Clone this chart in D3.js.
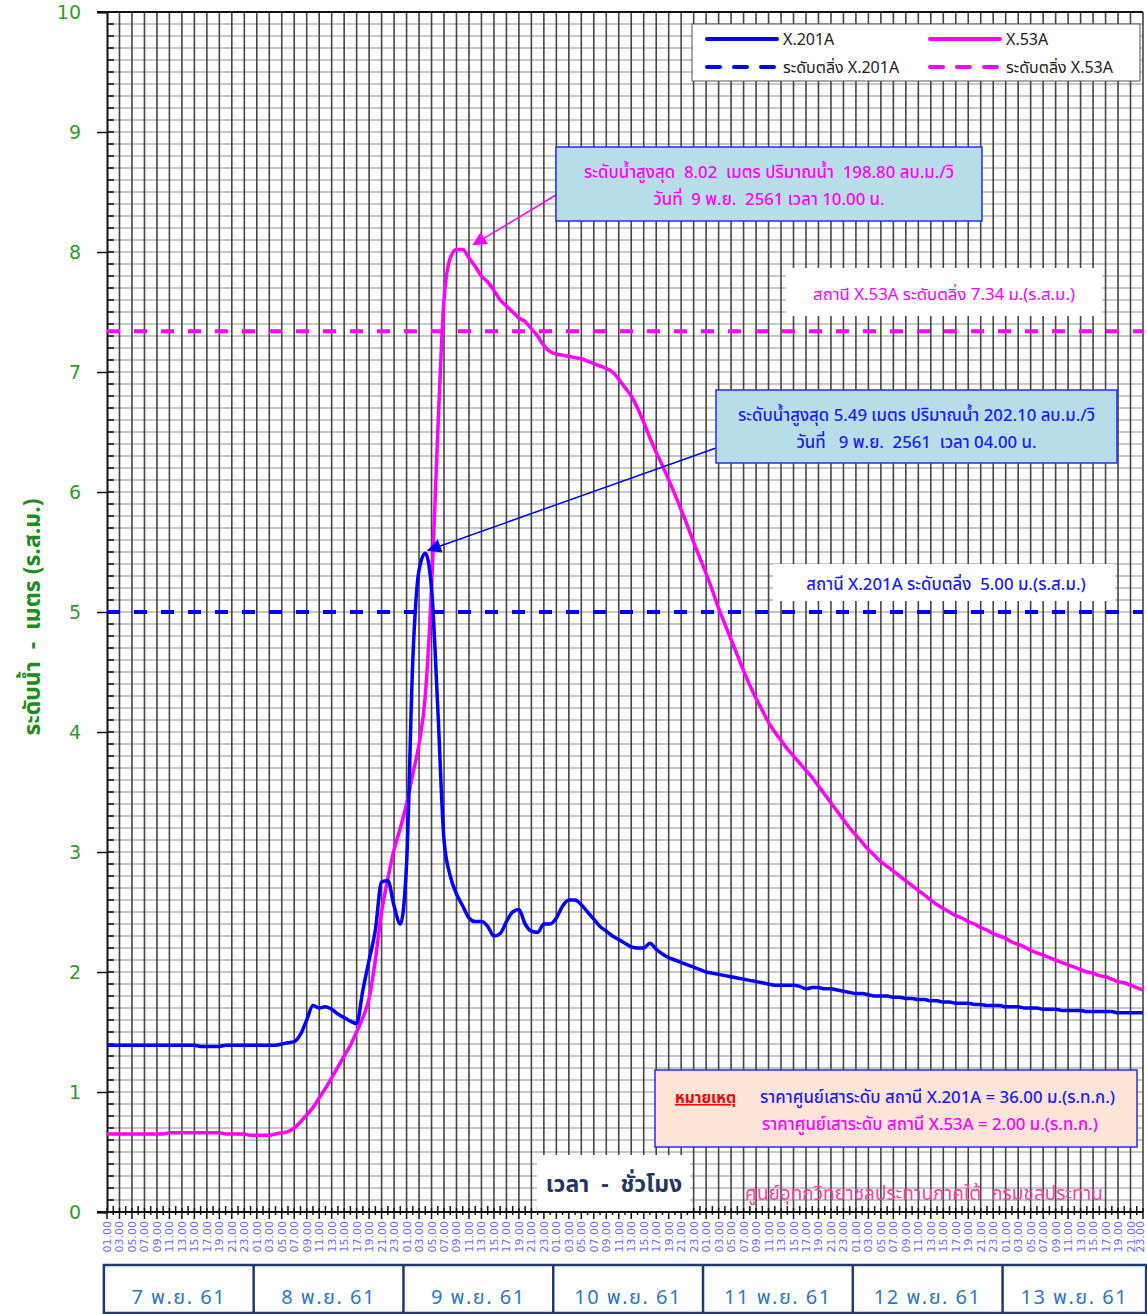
<!DOCTYPE html>
<html>
<head>
<meta charset="utf-8">
<script src="https://cdn.jsdelivr.net/npm/d3@7"></script>
<style>
  body { margin: 0; background: #fff; }
  svg text { font-family: Tahoma, "Noto Sans Thai", "Noto Sans", "DejaVu Sans", sans-serif; white-space: pre; }
</style>
</head>
<body>
<div id="chart"></div>
<script>
//data : hourly, index 0 = 7 Nov 01.00 ... index 166 = 13 Nov 23.00
var days = ["7 พ.ย. 61", "8 พ.ย. 61", "9 พ.ย. 61", "10 พ.ย. 61", "11 พ.ย. 61", "12 พ.ย. 61", "13 พ.ย. 61"];
var hourLabels = ["01.00","03.00","05.00","07.00","09.00","11.00","13.00","15.00","17.00","19.00","21.00","23.00"];
var yTicks = [0, 1, 2, 3, 4, 5, 6, 7, 8, 9, 10];

var x201A = [
  1.39,1.39,1.39,1.39,1.39,1.39,1.39,1.39,1.39,1.39,1.39,1.39,1.39,1.39,1.39,1.38,1.38,1.38,1.38,1.39,1.39,1.39,1.39,
  1.39,1.39,1.39,1.39,1.39,1.40,1.41,1.42,1.48,1.60,1.72,1.70,1.71,1.69,1.65,1.62,1.59,1.57,1.85,2.10,2.35,2.75,2.76,2.55,
  2.40,2.90,4.60,5.35,5.49,5.20,4.20,3.10,2.80,2.65,2.55,2.45,2.42,2.42,2.38,2.30,2.32,2.42,2.50,2.52,2.40,2.34,2.33,2.40,
  2.40,2.45,2.55,2.60,2.60,2.56,2.50,2.44,2.38,2.34,2.30,2.27,2.24,2.21,2.20,2.20,2.24,2.19,2.15,2.12,2.10,2.08,2.06,2.04,
  2.02,2.00,1.99,1.98,1.97,1.96,1.95,1.94,1.93,1.92,1.91,1.90,1.89,1.89,1.89,1.89,1.88,1.86,1.87,1.87,1.86,1.86,1.85,1.84,
  1.83,1.82,1.82,1.81,1.80,1.80,1.80,1.79,1.79,1.78,1.78,1.77,1.77,1.76,1.76,1.75,1.75,1.74,1.74,1.74,1.73,1.73,1.72,1.72,
  1.72,1.71,1.71,1.71,1.70,1.70,1.70,1.69,1.69,1.69,1.68,1.68,1.68,1.68,1.67,1.67,1.67,1.67,1.67,1.66,1.66,1.66,1.66,1.66
];
var x53A = [
  0.65,0.65,0.65,0.65,0.65,0.65,0.65,0.65,0.65,0.65,0.66,0.66,0.66,0.66,0.66,0.66,0.66,0.66,0.66,0.65,0.65,0.65,0.65,
  0.64,0.64,0.64,0.64,0.65,0.66,0.67,0.70,0.75,0.81,0.87,0.95,1.03,1.12,1.21,1.30,1.39,1.50,1.62,1.78,2.10,2.50,2.78,3.02,
  3.20,3.40,3.65,3.90,4.30,5.20,6.50,7.60,7.95,8.02,8.02,7.95,7.88,7.80,7.75,7.68,7.60,7.55,7.50,7.45,7.42,7.36,7.30,7.22,
  7.17,7.15,7.14,7.13,7.12,7.11,7.09,7.07,7.05,7.03,7.00,6.94,6.87,6.80,6.70,6.58,6.45,6.33,6.22,6.10,5.98,5.85,5.72,5.58,
  5.45,5.32,5.18,5.03,4.90,4.77,4.64,4.51,4.39,4.28,4.18,4.08,4.00,3.93,3.86,3.80,3.74,3.68,3.62,3.55,3.48,3.41,3.34,3.27,
  3.20,3.14,3.08,3.02,2.97,2.92,2.88,2.84,2.80,2.76,2.72,2.68,2.64,2.60,2.56,2.53,2.50,2.47,2.45,2.42,2.40,2.37,2.35,2.32,
  2.30,2.28,2.25,2.23,2.21,2.18,2.16,2.14,2.12,2.10,2.08,2.06,2.04,2.02,2.00,1.99,1.97,1.96,1.94,1.92,1.91,1.89,1.87,1.85
];
var bank201A = 5.00;
var bank53A = 7.34;

//globals
var width = 1147;
var height = 1314;
var plotL = 107, plotR = 1143, plotT = 12, plotB = 1212;
var nHours = x201A.length;

var svg = d3.select("#chart")
    .append("svg")
    .attr("width", width)
    .attr("height", height);

var x = d3.scaleLinear().domain([0, nHours - 1]).range([plotL, plotR]);
var y = d3.scaleLinear().domain([0, 10]).range([plotB, plotT]);

//horizontal grid every 0.1 m
var hGrid = d3.range(1, 100).map(function(d) { return d / 10; });
svg.append("g")
    .selectAll("line")
    .data(hGrid)
    .enter()
    .append("line")
    .attr("x1", plotL).attr("x2", plotR)
    .attr("y1", function(d) { return y(d); })
    .attr("y2", function(d) { return y(d); })
    .attr("stroke", "#b4b4b4")
    .attr("stroke-width", 1.6);

//vertical grid every 2 hours
var vGrid = d3.range(2, nHours, 2);
svg.append("g")
    .selectAll("line")
    .data(vGrid)
    .enter()
    .append("line")
    .attr("x1", function(d) { return x(d); })
    .attr("x2", function(d) { return x(d); })
    .attr("y1", plotT).attr("y2", plotB)
    .attr("stroke", "#454545")
    .attr("stroke-width", 1.6);

//top border
svg.append("line")
    .attr("x1", plotL - 10).attr("x2", plotR)
    .attr("y1", plotT).attr("y2", plotT)
    .attr("stroke", "#111").attr("stroke-width", 2);

//y axis
var yAxis = d3.axisLeft(y)
    .tickValues(yTicks)
    .tickSize(10)
    .tickPadding(16)
    .tickFormat(d3.format("d"));
var gy = svg.append("g")
    .attr("transform", "translate(" + plotL + ",0)")
    .call(yAxis);
gy.select(".domain").attr("stroke", "#111").attr("stroke-width", 2);
gy.selectAll(".tick line").attr("stroke", "#111").attr("stroke-width", 1.5);
gy.selectAll(".tick text")
    .attr("fill", "#2f9a2f")
    .style("font-size", "19px")
    .style("font-family", "'DejaVu Sans', sans-serif");

//minor y ticks (inside)
svg.append("g")
    .selectAll("line")
    .data(hGrid)
    .enter()
    .append("line")
    .attr("x1", plotL).attr("x2", plotL + 7)
    .attr("y1", function(d) { return y(d); })
    .attr("y2", function(d) { return y(d); })
    .attr("stroke", "#111").attr("stroke-width", 1.5);

//x axis line + ticks
svg.append("line")
    .attr("x1", plotL - 10).attr("x2", plotR)
    .attr("y1", plotB).attr("y2", plotB)
    .attr("stroke", "#111").attr("stroke-width", 2);

svg.append("g")
    .selectAll("line")
    .data(d3.range(0, nHours))
    .enter()
    .append("line")
    .attr("x1", function(d) { return x(d); })
    .attr("x2", function(d) { return x(d); })
    .attr("y1", function(d) { return d % 2 === 0 ? plotB - 4 : plotB - 6; })
    .attr("y2", function(d) { return d % 2 === 0 ? plotB + 7 : plotB + 3; })
    .attr("stroke", "#111").attr("stroke-width", 1.5);

//hour labels
svg.append("g")
    .selectAll("text")
    .data(d3.range(0, nHours, 2))
    .enter()
    .append("text")
    .attr("transform", function(d) {
        return "translate(" + Math.min(x(d) + 4, width - 3) + "," + (plotB + 9) + ") rotate(-90)";
    })
    .attr("text-anchor", "end")
    .attr("fill", "#6a6aff")
    .style("font-size", "11px")
    .style("font-family", "'DejaVu Sans', sans-serif")
    .text(function(d) { return hourLabels[(d / 2) % 12]; });

//day boxes
var boxT = 1265, boxB = 1313;
var dayBox = svg.append("g");
dayBox.append("rect")
    .attr("x", x(-0.5)).attr("y", boxT)
    .attr("width", x(nHours - 0.5) - x(-0.5))
    .attr("height", boxB - boxT)
    .attr("fill", "none")
    .attr("stroke", "#1f3a6e")
    .attr("stroke-width", 2.5);
dayBox.selectAll(".sep")
    .data(d3.range(1, 7))
    .enter()
    .append("line")
    .attr("x1", function(d) { return x(24 * d - 0.5); })
    .attr("x2", function(d) { return x(24 * d - 0.5); })
    .attr("y1", boxT).attr("y2", boxB)
    .attr("stroke", "#1f3a6e").attr("stroke-width", 2.5);
dayBox.selectAll("text")
    .data(days)
    .enter()
    .append("text")
    .attr("x", function(d, i) { return (x(24 * i - 0.5) + x(Math.min(24 * i + 23.5, nHours - 0.5))) / 2; })
    .attr("y", 1304)
    .attr("text-anchor", "middle")
    .attr("fill", "#2e78c0")
    .style("font-size", "20px")
    .style("letter-spacing", "1.5px")
    .text(function(d) { return d; });

//bank levels
svg.append("line")
    .attr("x1", plotL).attr("x2", plotR)
    .attr("y1", y(bank53A)).attr("y2", y(bank53A))
    .attr("stroke", "#ff00ff").attr("stroke-width", 4)
    .attr("stroke-dasharray", "13,14");
svg.append("line")
    .attr("x1", plotL).attr("x2", plotR)
    .attr("y1", y(bank201A)).attr("y2", y(bank201A))
    .attr("stroke", "#0000ff").attr("stroke-width", 4)
    .attr("stroke-dasharray", "13,14");

//series
var line = d3.line()
    .x(function(d, i) { return x(i); })
    .y(function(d) { return y(d); })
    .curve(d3.curveMonotoneX);

svg.append("path")
    .datum(x53A)
    .attr("d", line)
    .attr("fill", "none")
    .attr("stroke", "#ff00ff")
    .attr("stroke-width", 3.5);

svg.append("path")
    .datum(x201A)
    .attr("d", line)
    .attr("fill", "none")
    .attr("stroke", "#0000ff")
    .attr("stroke-width", 3.5);

//arrow heads
var defs = svg.append("defs");
function marker(id, color) {
    defs.append("marker")
        .attr("id", id)
        .attr("viewBox", "0 0 10 10")
        .attr("refX", 9).attr("refY", 5)
        .attr("markerWidth", 16).attr("markerHeight", 14)
        .attr("markerUnits", "userSpaceOnUse")
        .attr("orient", "auto")
        .append("path")
        .attr("d", "M0,0 L10,5 L0,10 z")
        .attr("fill", color);
}
marker("arrM", "#ff00ff");
marker("arrB", "#0000ff");

//peak callouts
var peak53 = d3.maxIndex(x53A);
var peak201 = d3.maxIndex(x201A);

svg.append("line")
    .attr("x1", 556).attr("y1", 195)
    .attr("x2", x(peak53) + 17).attr("y2", y(x53A[peak53]) - 5)
    .attr("stroke", "#ff00ff").attr("stroke-width", 1.5)
    .attr("marker-end", "url(#arrM)");
svg.append("line")
    .attr("x1", 716).attr("y1", 448)
    .attr("x2", x(peak201) + 3).attr("y2", y(x201A[peak201]) - 3)
    .attr("stroke", "#0000ff").attr("stroke-width", 1.5)
    .attr("marker-end", "url(#arrB)");

function callout(bx, by, bw, bh, fill, lines, color) {
    svg.append("rect")
        .attr("x", bx).attr("y", by).attr("width", bw).attr("height", bh)
        .attr("fill", fill).attr("stroke", "#2a2aff").attr("stroke-width", 1.5);
    svg.append("g")
        .selectAll("text")
        .data(lines)
        .enter()
        .append("text")
        .attr("x", bx + bw / 2)
        .attr("y", function(d, i) { return by + 31 + i * 27; })
        .attr("text-anchor", "middle")
        .attr("fill", color)
        .style("font-size", "16.8px")
        .style("font-weight", "500")
        .text(function(d) { return d; });
}
callout(556, 147, 426, 74, "#b6dde8",
    ["ระดับน้ำสูงสุด  8.02  เมตร ปริมาณน้ำ  198.80 ลบ.ม./วิ", "วันที่  9 พ.ย.  2561 เวลา 10.00 น."],
    "#ff00ff");
callout(716, 390, 401, 73, "#b6dde8",
    ["ระดับน้ำสูงสุด 5.49 เมตร ปริมาณน้ำ 202.10 ลบ.ม./วิ", "วันที่   9 พ.ย.  2561  เวลา 04.00 น."],
    "#1a1aff");

//bank labels
svg.append("rect")
    .attr("x", 786).attr("y", 268).attr("width", 316).attr("height", 48)
    .attr("fill", "#fff");
svg.append("text")
    .attr("x", 944).attr("y", 300)
    .attr("text-anchor", "middle")
    .attr("fill", "#ff00ff")
    .style("font-size", "16.8px")
    .text("สถานี X.53A ระดับตลิ่ง 7.34 ม.(ร.ส.ม.)");

svg.append("rect")
    .attr("x", 773).attr("y", 564).attr("width", 342).attr("height", 37)
    .attr("fill", "#fff");
svg.append("text")
    .attr("x", 946).attr("y", 590)
    .attr("text-anchor", "middle")
    .attr("fill", "#1a1aff")
    .style("font-size", "16.8px")
    .style("font-weight", "500")
    .text("สถานี X.201A ระดับตลิ่ง  5.00 ม.(ร.ส.ม.)");

//legend
var legend = svg.append("g");
legend.append("rect")
    .attr("x", 692).attr("y", 24).attr("width", 448).attr("height", 57)
    .attr("fill", "#fff").attr("stroke", "#555").attr("stroke-width", 1);
var legendItems = [
    { name: "X.201A", color: "#0000ff", dash: null, lx: 707, ly: 39 },
    { name: "X.53A", color: "#ff00ff", dash: null, lx: 930, ly: 39 },
    { name: "ระดับตลิ่ง X.201A", color: "#0000ff", dash: "13,14", lx: 707, ly: 67 },
    { name: "ระดับตลิ่ง X.53A", color: "#ff00ff", dash: "13,14", lx: 930, ly: 67 }
];
legendItems.forEach(function(d) {
    legend.append("line")
        .attr("x1", d.lx).attr("x2", d.lx + 70)
        .attr("y1", d.ly).attr("y2", d.ly)
        .attr("stroke", d.color).attr("stroke-width", 4)
        .attr("stroke-linecap", "round")
        .attr("stroke-dasharray", d.dash);
    legend.append("text")
        .attr("x", d.lx + 76).attr("y", d.ly + 6)
        .attr("fill", "#222")
        .style("font-size", "16px")
        .text(d.name);
});

//note box
svg.append("rect")
    .attr("x", 655).attr("y", 1070).attr("width", 482).attr("height", 77)
    .attr("fill", "#fce4d6").attr("stroke", "#2a2aff").attr("stroke-width", 1.5);
svg.append("text")
    .attr("x", 675).attr("y", 1103)
    .attr("fill", "#ff0000")
    .style("font-size", "15.5px")
    .style("font-weight", "bold")
    .style("text-decoration", "underline")
    .text("หมายเหตุ");
svg.append("text")
    .attr("x", 760).attr("y", 1103)
    .attr("fill", "#1a1aff")
    .style("font-size", "16.8px")
    .style("font-weight", "500")
    .text("ราคาศูนย์เสาระดับ สถานี X.201A = 36.00 ม.(ร.ท.ก.)");
svg.append("text")
    .attr("x", 762).attr("y", 1130)
    .attr("fill", "#ff00ff")
    .style("font-size", "16.8px")
    .style("font-weight", "500")
    .text("ราคาศูนย์เสาระดับ สถานี X.53A = 2.00 ม.(ร.ท.ก.)");

//x title
svg.append("rect")
    .attr("x", 537).attr("y", 1155).attr("width", 153).attr("height", 56)
    .attr("fill", "#fff");
svg.append("text")
    .attr("x", 614).attr("y", 1192)
    .attr("text-anchor", "middle")
    .attr("fill", "#1f3864")
    .style("font-size", "23px")
    .style("font-weight", "bold")
    .text("เวลา  -  ชั่วโมง");

//source
svg.append("text")
    .attr("x", 745).attr("y", 1200)
    .attr("fill", "#ff40a0")
    .style("font-size", "19px")
    .text("ศูนย์อุทกวิทยาชลประทานภาคใต้  กรมชลประทาน");

//y title
svg.append("text")
    .attr("transform", "translate(40,617) rotate(-90)")
    .attr("text-anchor", "middle")
    .attr("fill", "#1e8c1e")
    .style("font-size", "23px")
    .style("font-weight", "bold")
    .text("ระดับน้ำ  -  เมตร (ร.ส.ม.)");
</script>
</body>
</html>
